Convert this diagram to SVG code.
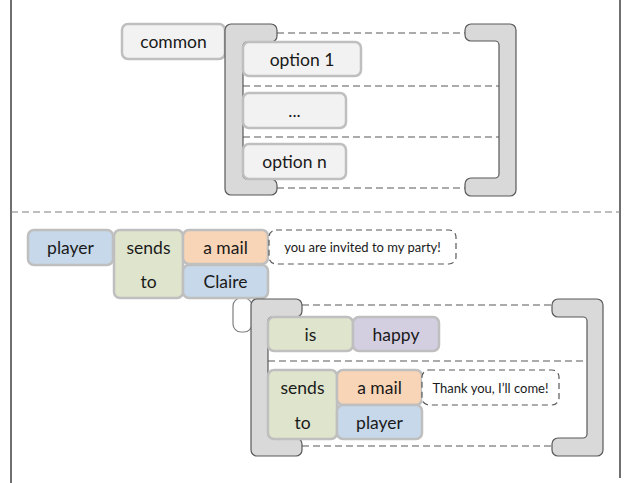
<svg xmlns="http://www.w3.org/2000/svg" width="627" height="483" viewBox="0 0 627 483">
  <defs>
    <style>
      .blk { stroke: #bfbfbf; stroke-width: 2.5; }
      .grey { fill: #f2f2f2; }
      .blue { fill: #c6d8e9; }
      .green { fill: #dfe5cd; }
      .peach { fill: #f9d5b7; }
      .lav { fill: #d4cee1; }
      .brk { fill: #d9d9d9; stroke: #595959; stroke-width: 1.2; }
      .dash { fill: none; stroke: #595959; stroke-width: 1.2; stroke-dasharray: 7 4; }
      .note { fill: #ffffff; stroke: #595959; stroke-width: 1.2; stroke-dasharray: 6 4; }
      .frame { fill: none; stroke: #404040; stroke-width: 1.5; }
      .split { fill: none; stroke: #7f7f7f; stroke-width: 1.2; stroke-dasharray: 7 4; }
      .t { font-family: Lato, "Liberation Sans", sans-serif; font-size: 17.5px; fill: #1a1a1a; text-anchor: middle; dominant-baseline: central; }
      .s { font-family: Lato, "Liberation Sans", sans-serif; font-size: 13px; fill: #1a1a1a; text-anchor: middle; dominant-baseline: central; }
    </style>
  </defs>

  <!-- page frame and section split -->
  <g id="frame">
    <line class="frame" x1="11" y1="0" x2="11" y2="483"/>
    <line class="frame" x1="620" y1="0" x2="620" y2="478"/>
    <line class="split" x1="11" y1="212" x2="620" y2="212"/>
  </g>

  <!-- connectors: bracket rails, separators and the link under Claire -->
  <g id="connectors">
    <line class="dash" x1="277" y1="33" x2="465" y2="33"/>
    <line class="dash" x1="243" y1="86" x2="499" y2="86"/>
    <line class="dash" x1="243" y1="137" x2="499" y2="137"/>
    <line class="dash" x1="277" y1="188" x2="465" y2="188"/>

    <line class="dash" x1="302" y1="305" x2="552" y2="305"/>
    <line class="dash" x1="268" y1="361" x2="587" y2="361"/>
    <line class="dash" x1="302" y1="446" x2="552" y2="446"/>

    <rect x="233" y="298" width="19" height="34" rx="8" fill="#ffffff" stroke="#7f7f7f" stroke-width="1.2"/>
  </g>

  <!-- top example: common + choice bracket -->
  <g id="common">
    <rect class="blk grey" x="122" y="24" width="103" height="35" rx="6"/>
    <text class="t" x="173.5" y="41.5">common</text>
  </g>

  <g id="choice-top">
    <path class="brk" d="M231 24 H271 A6 6 0 0 1 277 30 V36 A6 6 0 0 1 271 42 H247 A4 4 0 0 0 243 46 V175 A4 4 0 0 0 247 179 H271 A6 6 0 0 1 277 185 V189 A6 6 0 0 1 271 195 H231 A6 6 0 0 1 225 189 V30 A6 6 0 0 1 231 24 Z"/>
    <path class="brk" d="M510 24 H471 A6 6 0 0 0 465 30 V35 A6 6 0 0 0 471 41 H495 A4 4 0 0 1 499 45 V174 A4 4 0 0 1 495 178 H471 A6 6 0 0 0 465 184 V190 A6 6 0 0 0 471 196 H510 A6 6 0 0 0 516 190 V30 A6 6 0 0 0 510 24 Z"/>
  </g>

  <g id="option-1">
    <rect class="blk grey" x="243" y="42" width="118" height="34" rx="6"/>
    <text class="t" x="302" y="59">option 1</text>
  </g>
  <g id="option-dots">
    <rect class="blk grey" x="243" y="93" width="103" height="35" rx="6"/>
    <text class="t" x="294.5" y="110.5">...</text>
  </g>
  <g id="option-n">
    <rect class="blk grey" x="243" y="144" width="103" height="35" rx="6"/>
    <text class="t" x="294.5" y="161.5">option n</text>
  </g>

  <!-- bottom example: player sends a mail to Claire -->
  <g id="player">
    <rect class="blk blue" x="28" y="230" width="85" height="35" rx="6"/>
    <text class="t" x="70.5" y="247.5">player</text>
  </g>
  <g id="sends-to">
    <rect class="blk green" x="114" y="230" width="69" height="68" rx="6"/>
    <text class="t" x="148.5" y="247">sends</text>
    <text class="t" x="148.5" y="281">to</text>
  </g>
  <g id="a-mail">
    <rect class="blk peach" x="183" y="230" width="85" height="34" rx="6"/>
    <text class="t" x="225.5" y="247">a mail</text>
  </g>
  <g id="claire">
    <rect class="blk blue" x="183" y="265" width="85" height="33" rx="6"/>
    <text class="t" x="225.5" y="281.5">Claire</text>
  </g>
  <g id="note-invite">
    <rect class="note" x="269" y="230" width="187" height="34" rx="7"/>
    <text class="s" x="362.5" y="247">you are invited to my party!</text>
  </g>

  <g id="choice-bottom">
    <path class="brk" d="M257 299 H296 A6 6 0 0 1 302 305 V311 A6 6 0 0 1 296 317 H272 A4 4 0 0 0 268 321 V434 A4 4 0 0 0 272 438 H296 A6 6 0 0 1 302 444 V450 A6 6 0 0 1 296 456 H257 A6 6 0 0 1 251 450 V305 A6 6 0 0 1 257 299 Z"/>
    <path class="brk" d="M597 299 H558 A6 6 0 0 0 552 305 V311 A6 6 0 0 0 558 317 H583 A4 4 0 0 1 587 321 V434 A4 4 0 0 1 583 438 H558 A6 6 0 0 0 552 444 V450 A6 6 0 0 0 558 456 H597 A6 6 0 0 0 603 450 V305 A6 6 0 0 0 597 299 Z"/>
  </g>

  <g id="is">
    <rect class="blk green" x="268" y="317" width="85" height="34" rx="6"/>
    <text class="t" x="310.5" y="334">is</text>
  </g>
  <g id="happy">
    <rect class="blk lav" x="353" y="317" width="86" height="34" rx="6"/>
    <text class="t" x="396" y="334">happy</text>
  </g>

  <g id="sends-to-2">
    <rect class="blk green" x="268" y="370" width="69" height="69" rx="6"/>
    <text class="t" x="302.5" y="387.5">sends</text>
    <text class="t" x="302.5" y="422">to</text>
  </g>
  <g id="a-mail-2">
    <rect class="blk peach" x="337" y="370" width="85" height="35" rx="6"/>
    <text class="t" x="379.5" y="387.5">a mail</text>
  </g>
  <g id="player-2">
    <rect class="blk blue" x="337" y="405" width="85" height="34" rx="6"/>
    <text class="t" x="379.5" y="422">player</text>
  </g>
  <g id="note-reply">
    <rect class="note" x="422" y="370" width="137" height="35" rx="7"/>
    <text class="s" x="490.5" y="387.5">Thank you, I’ll come!</text>
  </g>
</svg>
